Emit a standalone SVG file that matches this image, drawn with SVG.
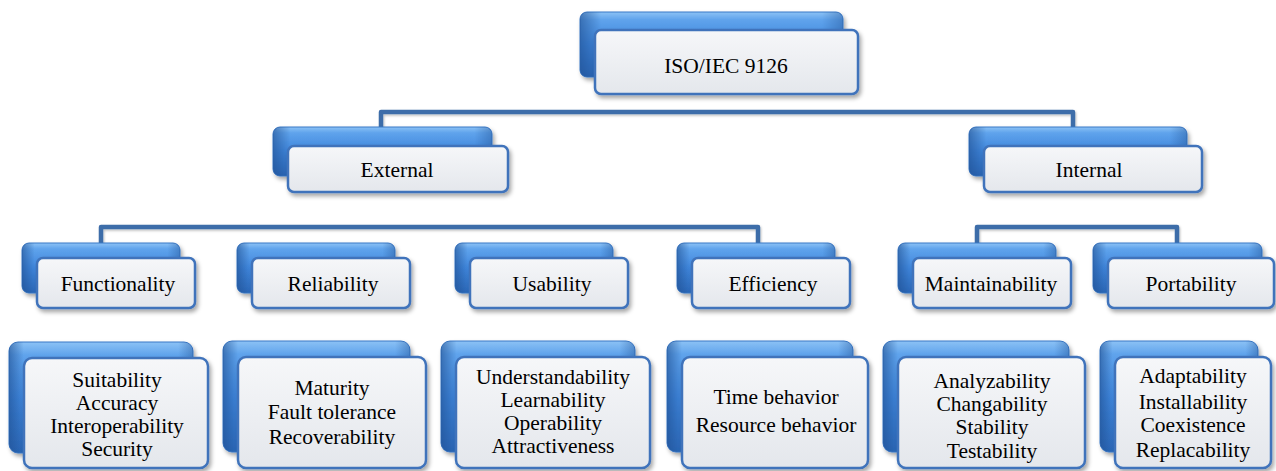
<svg xmlns="http://www.w3.org/2000/svg" width="1276" height="471" viewBox="0 0 1276 471">
  <defs>
    <linearGradient id="blueTop" x1="0" y1="0" x2="0" y2="1">
      <stop offset="0" stop-color="#8cc2f5"/>
      <stop offset="0.12" stop-color="#5fa3ec"/>
      <stop offset="0.5" stop-color="#3f86dc"/>
      <stop offset="1" stop-color="#2b68b8"/>
    </linearGradient>
    <linearGradient id="blueSide" x1="0" y1="0" x2="1" y2="0">
      <stop offset="0" stop-color="#1f4f91" stop-opacity="0.6"/>
      <stop offset="0.08" stop-color="#1f4f91" stop-opacity="0"/>
      <stop offset="0.92" stop-color="#1f4f91" stop-opacity="0"/>
      <stop offset="1" stop-color="#1f4f91" stop-opacity="0.4"/>
    </linearGradient>
    <linearGradient id="card" x1="0" y1="0" x2="0" y2="1">
      <stop offset="0" stop-color="#f6f7f9"/>
      <stop offset="1" stop-color="#e4e7ec"/>
    </linearGradient>
    <filter id="shadow" x="-10%" y="-10%" width="125%" height="135%">
      <feDropShadow dx="2" dy="3" stdDeviation="2.2" flood-color="#000" flood-opacity="0.35"/>
    </filter>
    <filter id="lineShadow" x="-5%" y="-20%" width="110%" height="160%">
      <feDropShadow dx="1" dy="1.5" stdDeviation="1" flood-color="#000" flood-opacity="0.25"/>
    </filter>
  </defs>
  <style>
    .back { fill: url(#blueTop); stroke: #3a78c6; stroke-width: 1; filter: url(#shadow); }
    .bevel { fill: url(#blueSide); }
    .front { fill: url(#card); stroke: #3f73bb; stroke-width: 2.5; filter: url(#shadow); }
    .wire { fill: none; stroke: #3e6da9; stroke-width: 4.5; stroke-linejoin: round; filter: url(#lineShadow); }
    text { font-family: "Liberation Serif", "Times New Roman", serif; font-size: 21.5px; fill: #000; text-anchor: middle; }
  </style>

  <!-- connectors -->
  <g id="connectors">
    <path class="wire" d="M712 94 V112"/>
    <path class="wire" d="M381 130 V112 H1073 V130"/>
    <path class="wire" d="M383 192 V227"/>
    <path class="wire" d="M101 245 V227 H758 V245"/>
    <path class="wire" d="M317 227 V245"/>
    <path class="wire" d="M537 227 V245"/>
    <path class="wire" d="M1073 192 V227"/>
    <path class="wire" d="M977 245 V227 H1177 V245"/>
    <path class="wire" d="M101 308 V343"/>
    <path class="wire" d="M317 308 V343"/>
    <path class="wire" d="M537 308 V343"/>
    <path class="wire" d="M758 308 V343"/>
    <path class="wire" d="M977 308 V343"/>
    <path class="wire" d="M1177 308 V343"/>
  </g>

  <!-- root -->
  <g id="iso9126">
    <rect class="back" x="580" y="12" width="263" height="65" rx="7"/>
    <rect class="bevel" x="580" y="12" width="263" height="65" rx="7"/>
    <rect class="front" x="595" y="30" width="263" height="64" rx="6"/>
    <text x="726" y="73">ISO/IEC 9126</text>
  </g>

  <!-- first level -->
  <g id="external">
    <rect class="back" x="273" y="127" width="219" height="49" rx="7"/>
    <rect class="bevel" x="273" y="127" width="219" height="49" rx="7"/>
    <rect class="front" x="288" y="146" width="220" height="46" rx="6"/>
    <text x="397" y="177">External</text>
  </g>
  <g id="internal">
    <rect class="back" x="969" y="127" width="218" height="49" rx="7"/>
    <rect class="bevel" x="969" y="127" width="218" height="49" rx="7"/>
    <rect class="front" x="984" y="146" width="218" height="46" rx="6"/>
    <text x="1089" y="177">Internal</text>
  </g>

  <!-- characteristics -->
  <g id="functionality">
    <rect class="back" x="22" y="243" width="158" height="50" rx="7"/>
    <rect class="bevel" x="22" y="243" width="158" height="50" rx="7"/>
    <rect class="front" x="37" y="258" width="158" height="50" rx="6"/>
    <text x="118" y="291">Functionality</text>
  </g>
  <g id="reliability">
    <rect class="back" x="237" y="243" width="158" height="50" rx="7"/>
    <rect class="bevel" x="237" y="243" width="158" height="50" rx="7"/>
    <rect class="front" x="252" y="258" width="158" height="50" rx="6"/>
    <text x="333" y="291">Reliability</text>
  </g>
  <g id="usability">
    <rect class="back" x="455" y="243" width="158" height="50" rx="7"/>
    <rect class="bevel" x="455" y="243" width="158" height="50" rx="7"/>
    <rect class="front" x="470" y="258" width="158" height="50" rx="6"/>
    <text x="552" y="291">Usability</text>
  </g>
  <g id="efficiency">
    <rect class="back" x="677" y="243" width="158" height="50" rx="7"/>
    <rect class="bevel" x="677" y="243" width="158" height="50" rx="7"/>
    <rect class="front" x="692" y="258" width="158" height="50" rx="6"/>
    <text x="773" y="291">Efficiency</text>
  </g>
  <g id="maintainability">
    <rect class="back" x="898" y="243" width="158" height="50" rx="7"/>
    <rect class="bevel" x="898" y="243" width="158" height="50" rx="7"/>
    <rect class="front" x="913" y="258" width="158" height="50" rx="6"/>
    <text x="991" y="291">Maintainability</text>
  </g>
  <g id="portability">
    <rect class="back" x="1093" y="243" width="169" height="50" rx="7"/>
    <rect class="bevel" x="1093" y="243" width="169" height="50" rx="7"/>
    <rect class="front" x="1108" y="258" width="166" height="50" rx="6"/>
    <text x="1191" y="291">Portability</text>
  </g>

  <!-- sub-characteristics -->
  <g id="functionality-sub">
    <rect class="back" x="9" y="342" width="184" height="111" rx="9"/>
    <rect class="bevel" x="9" y="342" width="184" height="111" rx="9"/>
    <rect class="front" x="24" y="358" width="184" height="110" rx="8"/>
    <text x="117" y="387">Suitability</text>
    <text x="117" y="410">Accuracy</text>
    <text x="117" y="433">Interoperability</text>
    <text x="117" y="456">Security</text>
  </g>
  <g id="reliability-sub">
    <rect class="back" x="223" y="341" width="187" height="111" rx="9"/>
    <rect class="bevel" x="223" y="341" width="187" height="111" rx="9"/>
    <rect class="front" x="238" y="357" width="188" height="111" rx="8"/>
    <text x="332" y="395">Maturity</text>
    <text x="332" y="419">Fault tolerance</text>
    <text x="332" y="444">Recoverability</text>
  </g>
  <g id="usability-sub">
    <rect class="back" x="441" y="341" width="194" height="111" rx="9"/>
    <rect class="bevel" x="441" y="341" width="194" height="111" rx="9"/>
    <rect class="front" x="456" y="357" width="194" height="111" rx="8"/>
    <text x="553" y="384">Understandability</text>
    <text x="553" y="407">Learnability</text>
    <text x="553" y="430">Operability</text>
    <text x="553" y="453">Attractiveness</text>
  </g>
  <g id="efficiency-sub">
    <rect class="back" x="667" y="341" width="186" height="111" rx="9"/>
    <rect class="bevel" x="667" y="341" width="186" height="111" rx="9"/>
    <rect class="front" x="682" y="357" width="186" height="111" rx="8"/>
    <text x="776" y="404">Time behavior</text>
    <text x="776" y="432">Resource behavior</text>
  </g>
  <g id="maintainability-sub">
    <rect class="back" x="883" y="341" width="186" height="111" rx="9"/>
    <rect class="bevel" x="883" y="341" width="186" height="111" rx="9"/>
    <rect class="front" x="898" y="357" width="187" height="111" rx="8"/>
    <text x="992" y="388">Analyzability</text>
    <text x="992" y="411">Changability</text>
    <text x="992" y="434">Stability</text>
    <text x="992" y="458">Testability</text>
  </g>
  <g id="portability-sub">
    <rect class="back" x="1100" y="341" width="158" height="111" rx="9"/>
    <rect class="bevel" x="1100" y="341" width="158" height="111" rx="9"/>
    <rect class="front" x="1115" y="357" width="156" height="111" rx="8"/>
    <text x="1193" y="383">Adaptability</text>
    <text x="1193" y="409">Installability</text>
    <text x="1193" y="432">Coexistence</text>
    <text x="1193" y="457">Replacability</text>
  </g>
</svg>
